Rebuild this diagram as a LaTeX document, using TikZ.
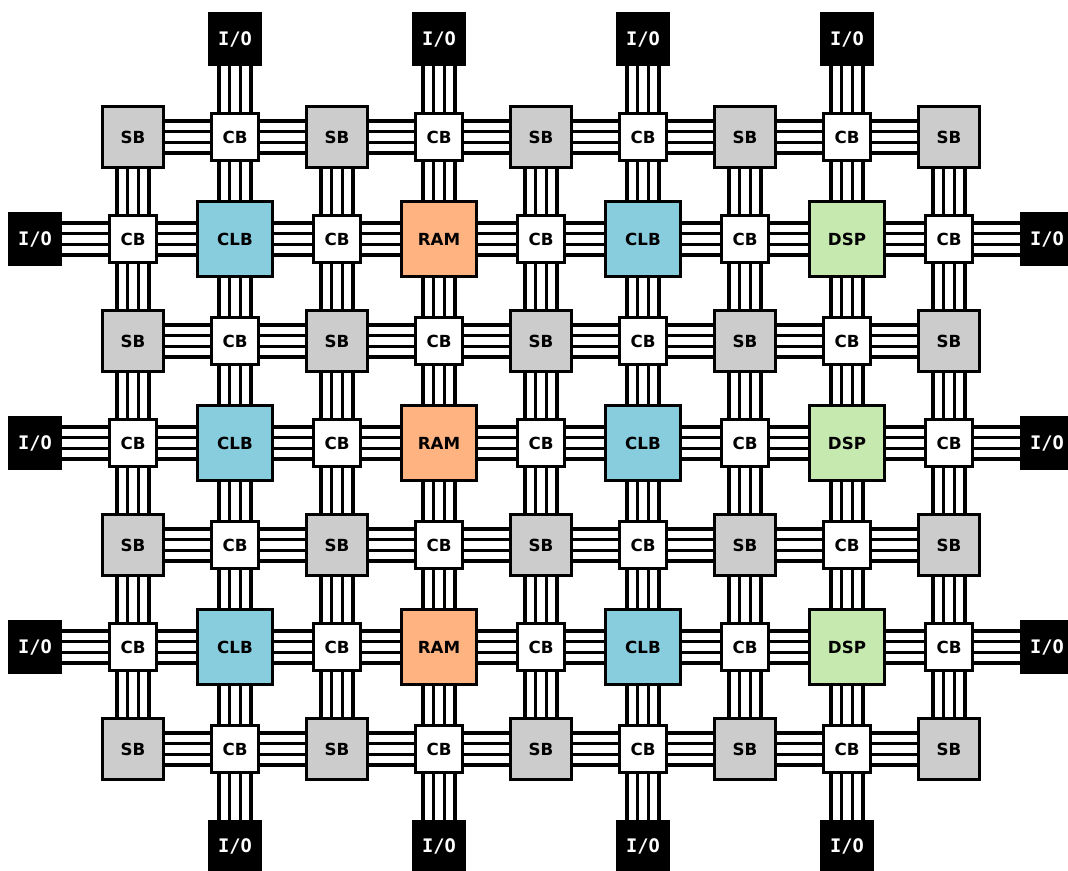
\documentclass[tikz,border=0pt]{standalone}
\usepackage{fontspec}
\setmainfont{DejaVu Sans}
\newfontfamily\iofont{DejaVu Sans Mono}
\usetikzlibrary{positioning}

\newcommand{\hwires}[2]{\foreach \off in {-12pt,-4pt,4pt,12pt} {\draw[wire] ([yshift=\off]#1.east)--([yshift=\off]#2.west);}}
\newcommand{\vwires}[2]{\foreach \off in {-12pt,-4pt,4pt,12pt} {\draw[wire] ([xshift=\off]#1.south)--([xshift=\off]#2.north);}}

\begin{document}
\begin{tikzpicture}[
  x=76.5pt,y=-76.5pt,
  block/.style={draw=black,line width=2.4pt,align=center,inner sep=0pt,font=\fontsize{12.5}{14}\selectfont\bfseries},
  sb/.style={block,fill=sbgray,minimum size=46.3pt},
  cb/.style={block,fill=white,minimum size=35.7pt},
  clb/.style={block,fill=clbblue,minimum size=56.3pt},
  ram/.style={block,fill=ramorange,minimum size=56.3pt},
  dsp/.style={block,fill=dspgreen,minimum size=56.3pt},
  io/.style={fill=black,text=white,inner sep=0pt,minimum size=40pt,font=\fontsize{14}{14}\selectfont\iofont\bfseries},
  wire/.style={line width=2.4pt}
]
  \definecolor{sbgray}{HTML}{CCCCCC}
  \definecolor{clbblue}{HTML}{87CDDE}
  \definecolor{ramorange}{HTML}{FFB380}
  \definecolor{dspgreen}{HTML}{C6E9AF}
  \clip (-1.3039,-1.3431) rectangle (9.1667,7.1961);

  % switch boxes and connection boxes in the routing rows
  \foreach \r in {0,2,4,6} {
    \foreach \c in {0,2,4,6,8} {\node[sb] (n\c-\r) at (\c,\r) {SB};}
    \foreach \c in {1,3,5,7} {\node[cb] (n\c-\r) at (\c,\r) {CB};}
  }
  % logic rows
  \foreach \r in {1,3,5} {
    \foreach \c in {0,2,4,6,8} {\node[cb] (n\c-\r) at (\c,\r) {CB};}
    \foreach \c/\kind/\txt in {1/clb/CLB,3/ram/RAM,5/clb/CLB,7/dsp/DSP} {\node[\kind] (n\c-\r) at (\c,\r) {\txt};}
    \node[io] (n-1-\r) at (-0.96,\r) {I/O};
    \node[io] (n9-\r) at (8.96,\r) {I/O};
  }
  \foreach \c in {1,3,5,7} {
    \node[io] (n\c--1) at (\c,-0.96) {I/O};
    \node[io] (n\c-7) at (\c,6.96) {I/O};
  }

  % horizontal buses
  \foreach \r in {0,2,4,6} {
    \foreach \c [evaluate=\c as \d using int(\c+1)] in {0,...,7} {\hwires{n\c-\r}{n\d-\r}}
  }
  \foreach \r in {1,3,5} {
    \foreach \c [evaluate=\c as \d using int(\c+1)] in {-1,...,8} {\hwires{n\c-\r}{n\d-\r}}
  }
  % vertical buses
  \foreach \c in {0,2,4,6,8} {
    \foreach \r [evaluate=\r as \s using int(\r+1)] in {0,...,5} {\vwires{n\c-\r}{n\c-\s}}
  }
  \foreach \c in {1,3,5,7} {
    \foreach \r [evaluate=\r as \s using int(\r+1)] in {-1,...,6} {\vwires{n\c-\r}{n\c-\s}}
  }
\end{tikzpicture}
\end{document}
